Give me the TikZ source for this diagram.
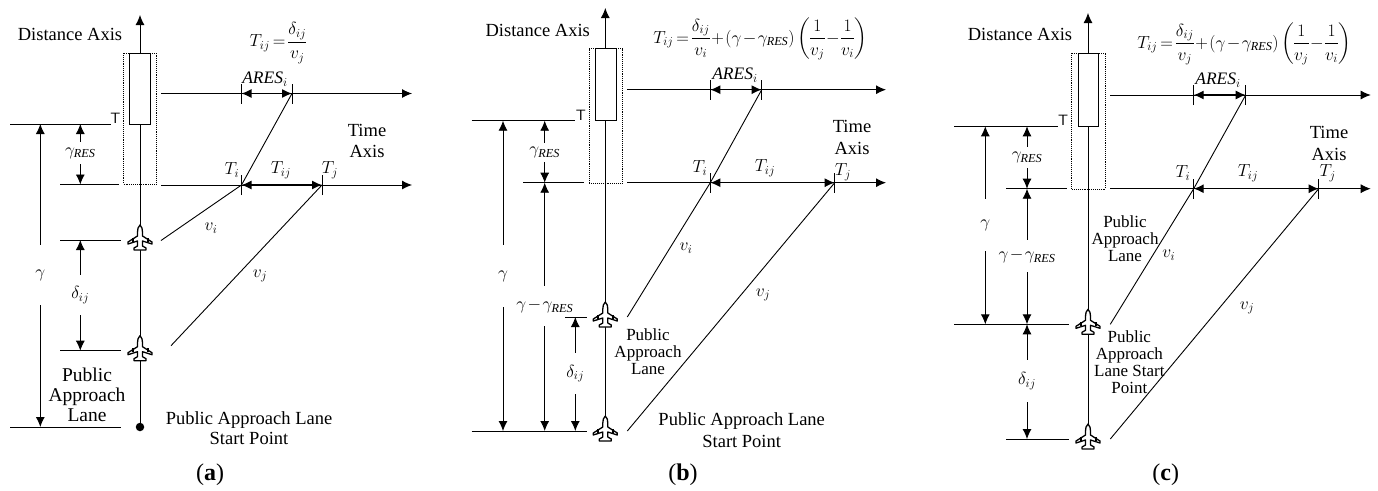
\documentclass[tikz,border=0pt]{standalone}
\usepackage{fix-cm}
\usepackage{fontspec}
\setmainfont{Liberation Serif}
\usepackage{amsmath}
\usepackage{xcolor}
\usetikzlibrary{arrows.meta,calc}
\newcommand{\sizetext}{\fontsize{18.5}{20}\selectfont}
\newcommand{\sizesmall}{\fontsize{17}{17}\selectfont}
\newcommand{\sizemath}{\fontsize{17.5}{18}\selectfont\medmuskip=1.5mu\thickmuskip=3mu\nulldelimiterspace=0pt}
\tikzset{
  rule/.style={line width=0.9pt},
  axis/.style={rule,-{Latex[length=10pt,width=9pt]}},
  dim/.style={rule,{Latex[length=10pt,width=9pt]}-},
  span/.style={line width=1.2pt,{Latex[length=10pt,width=9pt]}-{Latex[length=10pt,width=9pt]}},
  lbl/.style={font=\sizetext,align=center,inner sep=0pt},
  lblsmall/.style={font=\sizesmall,align=center,inner sep=0pt},
  sym/.style={font=\sizemath,inner sep=0pt},
  gapsym/.style={sym,minimum height=#1},
  stopmark/.style={font=\sffamily\fontsize{15}{15}\selectfont,inner sep=0pt},
  capt/.style={font=\fontsize{24}{26}\selectfont,inner sep=0pt},
  aircraft/.pic={
    \draw[line width=1.3pt,fill=white,line join=round] (0,-15) .. controls (-2,-13) and (-2.5,-11) .. (-2.5,-8) -- (-2.5,-4)
      -- (-12,2) -- (-12,4) -- (-2.5,1) -- (-2.5,6) -- (-6,8) -- (-6,10) -- (6,10) -- (6,8) -- (2.5,6) -- (2.5,1)
      -- (12,4) -- (12,2) -- (2.5,-4) -- (2.5,-8) .. controls (2.5,-11) and (2,-13) .. (0,-15) -- cycle;
    \fill (-8.5,-2.5) rectangle (-6.5,1.5);
    \fill (6.5,-2.5) rectangle (8.5,1.5);
  }
}
\begin{document}
\begin{tikzpicture}[x=1pt,y=-1pt]
  \useasboundingbox (0,0) rectangle (1378,490);

  % panel a
  \coordinate (tipA) at (140,15);
  \coordinate (farA) at (10,124);
  \coordinate (stopA) at (111,124);
  \coordinate (resL) at (60,184.5);
  \coordinate (resR) at (119,184.5);
  \coordinate (firstL) at (60,240);
  \coordinate (firstR) at (121,240);
  \coordinate (secondL) at (60,350.7);
  \coordinate (secondR) at (121,350.7);
  \coordinate (baseL) at (10,427);
  \coordinate (baseR) at (121,427);
  \coordinate (upperA) at (161,93.5);
  \coordinate (upperEndA) at (412,93.5);
  \coordinate (lowerA) at (161,185);
  \coordinate (lowerEndA) at (412,185);
  \coordinate (aresA) at (241.5,93.5);
  \coordinate (aresEndA) at (292,93.5);
  \coordinate (tiA) at (241.5,185);
  \coordinate (tjA) at (322,185);
  \coordinate (viA) at (161,240.5);
  \coordinate (vjA) at (171,345.7);
  \node[circle,fill=black,inner sep=0pt,minimum size=8.5pt] (dotA) at (140,427) {};
  \draw[axis] (dotA) -- (tipA);
  \draw[rule,fill=white] (129.5,53) rectangle (150,124);
  \draw[rule,densely dotted] (123.5,53) rectangle (156.5,184);
  \draw[rule] (farA) -- (stopA);
  \draw[rule] (resL) -- (resR);
  \draw[rule] (firstL) -- (firstR);
  \draw[rule] (secondL) -- (secondR);
  \draw[rule] (baseL) -- (baseR);
  \draw[axis] (upperA) -- (upperEndA);
  \draw[axis] (lowerA) -- (lowerEndA);
  \foreach \tickpt in {aresA,aresEndA,tiA,tjA}
    \draw[rule] ([yshift=-10pt]\tickpt) -- ([yshift=10pt]\tickpt);
  \draw[span] (aresA) -- (aresEndA);
  \draw[span] (tiA) -- (tjA);
  \draw[rule] (viA) -- (tiA) -- (aresEndA);
  \draw[rule] (vjA) -- (tjA);
  \pic at (firstR -| dotA) {aircraft};
  \pic at (secondR -| dotA) {aircraft};
  \node[gapsym=60pt] (gammaA) at (40.3,275) {$\gamma$};
  \draw[dim] (gammaA.north |- stopA) -- (gammaA.north);
  \draw[dim] (gammaA.south |- baseL) -- (gammaA.south);
  \node[gapsym=22pt] (resA) at (80.3,153) {$\gamma_{\mathit{RES}}$};
  \draw[dim] (resA.north |- stopA) -- (resA.north);
  \draw[dim] (resA.south |- resL) -- (resA.south);
  \node[gapsym=40pt] (deltaA) at (80.3,295) {$\delta_{ij}$};
  \draw[dim] (deltaA.north |- firstL) -- (deltaA.north);
  \draw[dim] (deltaA.south |- secondL) -- (deltaA.south);
  \node[lbl] (distA) at (70,34) {Distance Axis};
  \node[stopmark] (markA) at (115.5,118.5) {T};
  \node[sym] (formulaA) at (278,43) {$T_{ij}=\dfrac{\delta_{ij}}{v_j}$};
  \node[sym] (aresLabelA) at (265,79) {$\mathit{ARES}_i$};
  \node[lbl] (timeA) at (367,141) {Time\\[1pt]Axis};
  \node[sym] (tiLabelA) at (232,170) {$T_i$};
  \node[sym] (tijLabelA) at (281,170) {$T_{ij}$};
  \node[sym] (tjLabelA) at (330,170) {$T_j$};
  \node[sym] (viLabelA) at (211,228) {$v_i$};
  \node[sym] (vjLabelA) at (260,276) {$v_j$};
  \node[lbl,font=\fontsize{19.5}{20}\selectfont] (laneA) at (87,395) {Public\\Approach\\Lane};
  \node[lbl] (startA) at (249,428) {Public Approach Lane\\Start Point};
  \node[capt] (capA) at (210,475) {(\textbf{a})};

  % panel b
  \coordinate (tipB) at (605.3,8);
  \coordinate (footB) at (605.3,431);
  \coordinate (farB) at (471.7,120.7);
  \coordinate (stopB) at (575,120.7);
  \coordinate (resLB) at (523.3,182.7);
  \coordinate (resRB) at (584,182.7);
  \coordinate (firstLB) at (565,317);
  \coordinate (firstRB) at (586.7,317);
  \coordinate (baseLB) at (471.7,431);
  \coordinate (baseRB) at (586.7,431);
  \coordinate (upperB) at (627,89.7);
  \coordinate (upperEndB) at (886,89.7);
  \coordinate (lowerB) at (627,182.7);
  \coordinate (lowerEndB) at (886,182.7);
  \coordinate (aresB) at (710.3,89.7);
  \coordinate (aresEndB) at (761.7,89.7);
  \coordinate (tiB) at (710.3,182.7);
  \coordinate (tjB) at (834.7,182.7);
  \coordinate (viB) at (627.3,317);
  \coordinate (vjB) at (627.3,431);
  \draw[axis] (footB) -- (tipB);
  \draw[rule,fill=white] (595.3,48.5) rectangle (616.3,120.7);
  \draw[rule,densely dotted] (589,48.5) rectangle (622.3,183);
  \draw[rule] (farB) -- (stopB);
  \draw[rule] (resLB) -- (resRB);
  \draw[rule] (firstLB) -- (firstRB);
  \draw[rule] (baseLB) -- (baseRB);
  \draw[axis] (upperB) -- (upperEndB);
  \draw[axis] (lowerB) -- (lowerEndB);
  \foreach \tickpt in {aresB,aresEndB,tiB,tjB}
    \draw[rule] ([yshift=-10pt]\tickpt) -- ([yshift=10pt]\tickpt);
  \draw[span] (aresB) -- (aresEndB);
  \draw[span] (tiB) -- (tjB);
  \draw[rule] (viB) -- (tiB) -- (aresEndB);
  \draw[rule] (vjB) -- (tjB);
  \pic at (firstRB -| footB) {aircraft};
  \pic at (footB) {aircraft};
  \node[gapsym=62pt] (gammaB) at (503,276) {$\gamma$};
  \draw[dim] (gammaB.north |- stopB) -- (gammaB.north);
  \draw[dim] (gammaB.south |- baseLB) -- (gammaB.south);
  \node[gapsym=19pt] (resB) at (544.7,152.5) {$\gamma_{\mathit{RES}}$};
  \draw[dim] (resB.north |- stopB) -- (resB.north);
  \draw[dim] (resB.south |- resLB) -- (resB.south);
  \node[gapsym=40pt] (diffB) at (544.7,306) {$\gamma-\gamma_{\mathit{RES}}$};
  \draw[dim] (diffB.north |- resLB) -- (diffB.north);
  \draw[dim] (diffB.south |- baseLB) -- (diffB.south);
  \node[gapsym=41pt] (deltaB) at (575.3,373.5) {$\delta_{ij}$};
  \draw[dim] (deltaB.north |- firstLB) -- (deltaB.north);
  \draw[dim] (deltaB.south |- baseLB) -- (deltaB.south);
  \node[lbl] (distB) at (537.7,30) {Distance Axis};
  \node[stopmark] (markB) at (581,115.2) {T};
  \node[sym] (formulaB) at (760,39) {$T_{ij}=\dfrac{\delta_{ij}}{v_i}+\left(\gamma-\gamma_{\mathit{RES}}\right)\left(\dfrac{1}{v_j}-\dfrac{1}{v_i}\right)$};
  \node[sym] (aresLabelB) at (735,75) {$\mathit{ARES}_i$};
  \node[lbl] (timeB) at (852,137) {Time\\[2pt]Axis};
  \node[sym] (tiLabelB) at (700,168) {$T_i$};
  \node[sym] (tijLabelB) at (765,168) {$T_{ij}$};
  \node[sym] (tjLabelB) at (843,172) {$T_j$};
  \node[sym] (viLabelB) at (686,248) {$v_i$};
  \node[sym] (vjLabelB) at (763,295) {$v_j$};
  \node[lblsmall] (laneB) at (648,352) {Public\\Approach\\Lane};
  \node[lbl] (startB) at (741.7,430) {Public Approach Lane\\[2pt]Start Point};
  \node[capt] (capB) at (683,475) {(\textbf{b})};

  % panel c
  \coordinate (tipC) at (1088,13);
  \coordinate (footC) at (1088,439);
  \coordinate (farC) at (954,126.3);
  \coordinate (stopC) at (1058,126.3);
  \coordinate (resLC) at (1006,188.7);
  \coordinate (resRC) at (1066.7,188.7);
  \coordinate (firstLC) at (954,324.3);
  \coordinate (firstRC) at (1069,324.3);
  \coordinate (baseLC) at (1006,439);
  \coordinate (baseRC) at (1069,439);
  \coordinate (upperC) at (1110,95);
  \coordinate (upperEndC) at (1370.7,95);
  \coordinate (lowerC) at (1110,188.7);
  \coordinate (lowerEndC) at (1370.7,188.7);
  \coordinate (aresC) at (1193.7,95);
  \coordinate (aresEndC) at (1245.7,95);
  \coordinate (tiC) at (1193.7,188.7);
  \coordinate (tjC) at (1318.7,188.7);
  \coordinate (viC) at (1110.3,324.3);
  \coordinate (vjC) at (1110.3,439);
  \draw[axis] (footC) -- (tipC);
  \draw[rule,fill=white] (1078,53) rectangle (1098.7,126.3);
  \draw[rule,densely dotted] (1071.3,53) rectangle (1105.3,189);
  \draw[rule] (farC) -- (stopC);
  \draw[rule] (resLC) -- (resRC);
  \draw[rule] (firstLC) -- (firstRC);
  \draw[rule] (baseLC) -- (baseRC);
  \draw[axis] (upperC) -- (upperEndC);
  \draw[axis] (lowerC) -- (lowerEndC);
  \foreach \tickpt in {aresC,aresEndC,tiC,tjC}
    \draw[rule] ([yshift=-10pt]\tickpt) -- ([yshift=10pt]\tickpt);
  \draw[span] (aresC) -- (aresEndC);
  \draw[span] (tiC) -- (tjC);
  \draw[rule] (viC) -- (tiC) -- (aresEndC);
  \draw[rule] (vjC) -- (tjC);
  \pic at (firstRC -| footC) {aircraft};
  \pic at (footC) {aircraft};
  \node[gapsym=52pt] (gammaC) at (985.3,225) {$\gamma$};
  \draw[dim] (gammaC.north |- stopC) -- (gammaC.north);
  \draw[dim] (gammaC.south |- firstLC) -- (gammaC.south);
  \node[gapsym=21pt] (resC) at (1027,157.5) {$\gamma_{\mathit{RES}}$};
  \draw[dim] (resC.north |- stopC) -- (resC.north);
  \draw[dim] (resC.south |- resLC) -- (resC.south);
  \node[gapsym=31.5pt] (diffC) at (1027,256.4) {$\gamma-\gamma_{\mathit{RES}}$};
  \draw[dim] (diffC.north |- resLC) -- (diffC.north);
  \draw[dim] (diffC.south |- firstLC) -- (diffC.south);
  \node[gapsym=41pt] (deltaC) at (1027,381) {$\delta_{ij}$};
  \draw[dim] (deltaC.north |- firstLC) -- (deltaC.north);
  \draw[dim] (deltaC.south |- baseLC) -- (deltaC.south);
  \node[lbl] (distC) at (1020,34) {Distance Axis};
  \node[stopmark] (markC) at (1063,120.8) {T};
  \node[sym] (formulaC) at (1244,44) {$T_{ij}=\dfrac{\delta_{ij}}{v_j}+\left(\gamma-\gamma_{\mathit{RES}}\right)\left(\dfrac{1}{v_j}-\dfrac{1}{v_i}\right)$};
  \node[sym] (aresLabelC) at (1218,80) {$\mathit{ARES}_i$};
  \node[lbl] (timeC) at (1329,143) {Time\\[2pt]Axis};
  \node[sym] (tiLabelC) at (1183,173) {$T_i$};
  \node[sym] (tijLabelC) at (1248,173) {$T_{ij}$};
  \node[sym] (tjLabelC) at (1327.7,173) {$T_j$};
  \node[sym] (viLabelC) at (1168.7,255) {$v_i$};
  \node[sym] (vjLabelC) at (1247,308) {$v_j$};
  \node[lblsmall] (laneC) at (1125,239) {Public\\Approach\\Lane};
  \node[lblsmall] (startC) at (1129.3,362) {Public\\Approach\\Lane Start\\Point};
  \node[capt] (capC) at (1165.7,475) {(\textbf{c})};
\end{tikzpicture}
\end{document}
